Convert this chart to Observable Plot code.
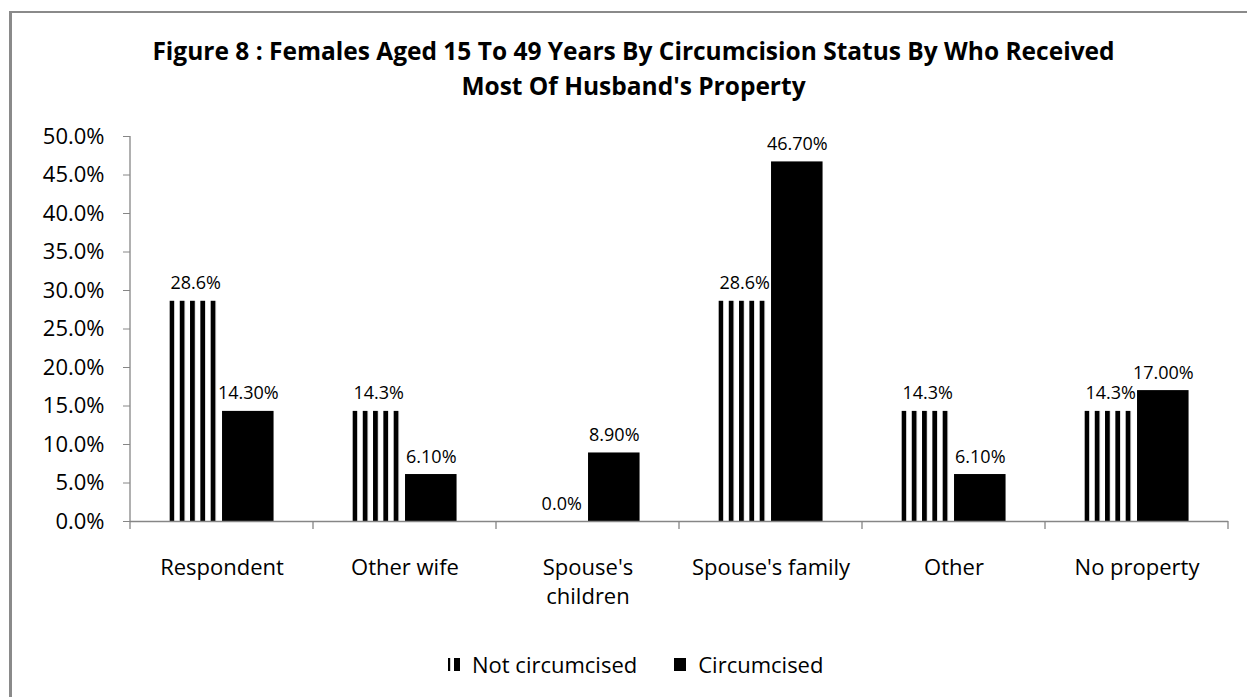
<!DOCTYPE html>
<html>
<head>
<meta charset="utf-8">
<script src="https://cdn.jsdelivr.net/npm/d3@7"></script>
<script src="https://cdn.jsdelivr.net/npm/@observablehq/plot@0.6"></script>
<style>
  html, body { margin: 0; padding: 0; background: #fff; }
  #wrap { position: relative; width: 1247px; height: 697px; overflow: hidden; font-family: "Open Sans", sans-serif; color: #000; }
  #border { position: absolute; left: 9px; top: 11px; width: 1300px; height: 800px; border-left: 3px solid #8a8a8a; border-top: 2px solid #8a8a8a; }
  #title { position: absolute; left: 0; top: 33px; width: 1267px; text-align: center; font-weight: 700; font-size: 24.5px; line-height: 35px; white-space: nowrap; }
  #chart { position: absolute; left: 0; top: 110px; }
  #legend { position: absolute; left: 448px; top: 651px; display: flex; align-items: center; font-size: 22px; line-height: 26px; white-space: nowrap; }
  #legend .item { display: flex; align-items: center; }
  #legend svg { margin-right: 12px; }
</style>
</head>
<body>
<div id="wrap">
  <div id="border"></div>
  <div id="title">Figure 8 : Females Aged 15 To 49 Years By Circumcision Status By Who Received<br>Most Of Husband's Property</div>
  <div id="chart"></div>
  <div id="legend"></div>
</div>
<script>
const categories = ["Respondent", "Other wife", "Spouse's children", "Spouse's family", "Other", "No property"];
const categoryLabels = ["Respondent", "Other wife", "Spouse's\nchildren", "Spouse's family", "Other", "No property"];
const seriesNames = ["Not circumcised", "Circumcised"];
const notCircumcised = [28.6, 14.3, 0.0, 28.6, 14.3, 14.3];
const circumcised = [14.3, 6.1, 8.9, 46.7, 6.1, 17.0];
const yTicks = [0, 5, 10, 15, 20, 25, 30, 35, 40, 45, 50];
const seriesDecimals = [1, 2];
const seriesFills = ["url(#stripes)", "#000000"];

const data = [];
categories.forEach((c, i) => {
  data.push({category: c, series: seriesNames[0], value: notCircumcised[i], dec: seriesDecimals[0]});
  data.push({category: c, series: seriesNames[1], value: circumcised[i], dec: seriesDecimals[1]});
});
const labelOf = new Map(categories.map((c, i) => [c, categoryLabels[i]]));

const axisGrey = "#868686";
const plot = Plot.plot({
  width: 1247,
  height: 480,
  marginLeft: 130,
  marginRight: 19,
  marginTop: 26,
  marginBottom: 69,
  style: {fontFamily: "Open Sans", fontSize: "22px", color: "#000", background: "transparent", overflow: "visible"},
  fx: {domain: categories, padding: 0, axis: null},
  x: {domain: seriesNames, paddingInner: 0.02, paddingOuter: 0.75, round: false, axis: null},
  y: {domain: [0, 50], axis: null},
  color: {domain: seriesNames, range: seriesFills},
  marks: [
    Plot.barY(data, {fx: "category", x: "series", y: "value", fill: "series"}),
    Plot.ruleY([0], {stroke: axisGrey, strokeWidth: 1.3}),
    Plot.text(data, {
      fx: "category", x: "series", y: "value",
      text: d => d.value.toFixed(d.dec) + "%",
      fontSize: 18, lineAnchor: "bottom", dy: -12, fill: "#000"
    }),
    Plot.axisY({ticks: yTicks, tickSize: 7, tickPadding: 19, tickFormat: d => d.toFixed(1) + "%", stroke: axisGrey, fill: "#000", label: null, fontSize: 22}),
    Plot.axisFx({anchor: "bottom", tickSize: 0, tickPadding: 33, tickFormat: d => labelOf.get(d), label: null, fontSize: 22, lineHeight: 1.32, fill: "#000"})
  ]
});

// pattern for striped bars
const ns = "http://www.w3.org/2000/svg";
const defs = document.createElementNS(ns, "defs");
defs.innerHTML = '<pattern id="stripes" patternUnits="objectBoundingBox" x="0" y="0" width="0.2" height="1" patternContentUnits="userSpaceOnUse">' +
  '<rect x="0" y="0" width="20" height="2000" fill="#fff"/>' +
  '<rect x="0" y="0" width="4.8" height="2000" fill="#000"/></pattern>';
plot.insertBefore(defs, plot.firstChild);

// axis line and category separator ticks, from the plot's own scales
const fx = plot.scale("fx");
const ys = plot.scale("y");
const y0 = ys.apply(0), y50 = ys.apply(50);
const fxLeft = fx.range[0], fxRight = fx.range[1];
const step = (fxRight - fxLeft) / categories.length;
const bounds = d3.range(categories.length + 1).map(i => fxLeft + i * step);
const g = d3.select(plot).append("g").attr("stroke", axisGrey).attr("stroke-width", 1.3);
g.append("line").attr("x1", fxLeft).attr("x2", fxLeft).attr("y1", y50).attr("y2", y0 + 8);
bounds.slice(1).forEach(b => {
  g.append("line").attr("x1", b).attr("x2", b).attr("y1", y0).attr("y2", y0 + 8);
});

document.getElementById("chart").appendChild(plot);

// legend
const legend = document.getElementById("legend");
legend.innerHTML =
  '<div class="item"><svg width="12" height="13"><rect x="0" y="0" width="2.2" height="13" fill="#000"/><rect x="6" y="0" width="6" height="13" fill="#000"/></svg>' +
  '<span>' + seriesNames[0] + '</span></div>' +
  '<div class="item" style="margin-left:37px"><svg width="12" height="13"><rect x="0" y="0" width="12" height="13" fill="#000"/></svg>' +
  '<span>' + seriesNames[1] + '</span></div>';
</script>
</body>
</html>
